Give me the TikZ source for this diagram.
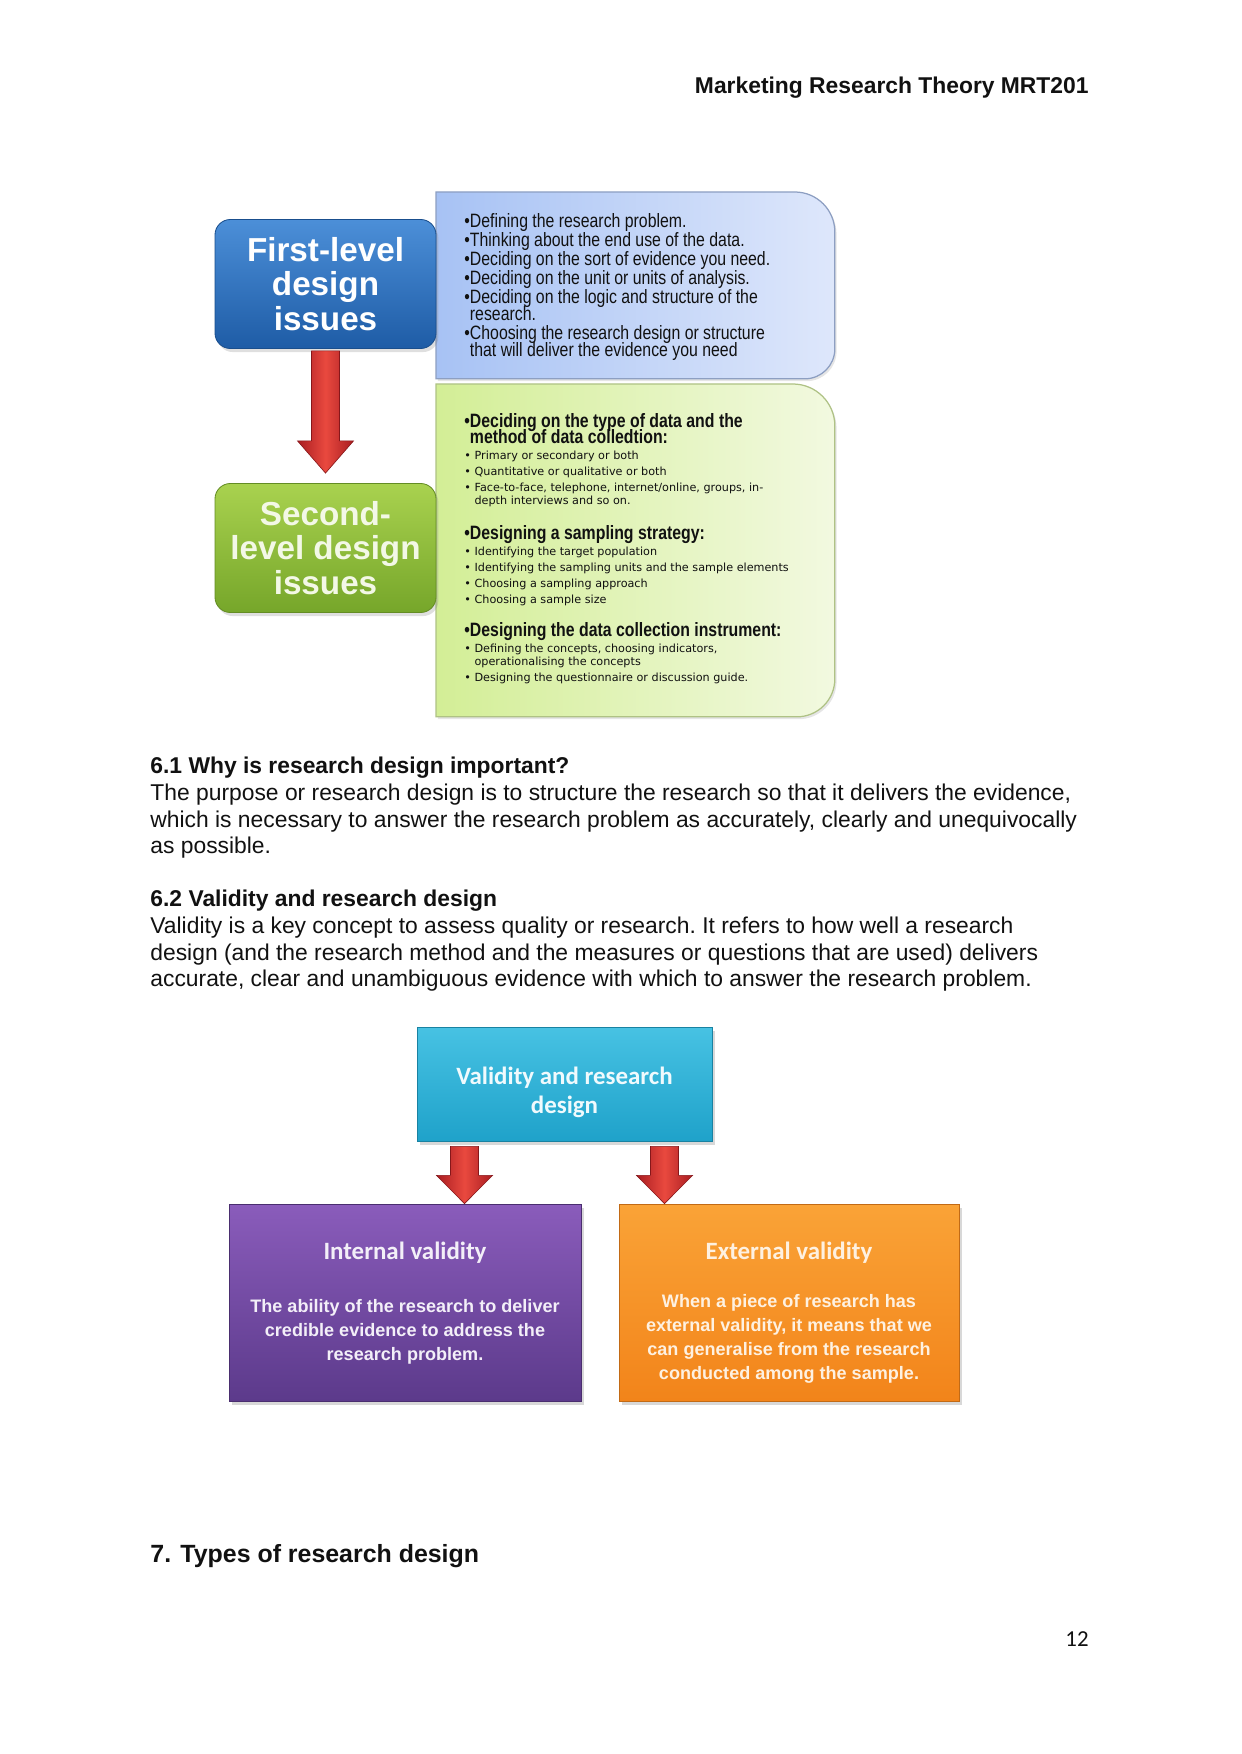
\documentclass[tikz,border=0pt]{standalone}
\usepackage{fontspec}
\setmainfont{Liberation Sans}
\newfontfamily\narrowfont{Liberation Sans}[FakeStretch=0.82]
\newfontfamily\itemfont{DejaVu Sans}
\newfontfamily\calfont{Carlito}
\usepackage{xcolor}
\usepackage{tikz}
\usetikzlibrary{arrows.meta,backgrounds,calc,positioning,shadows}
\definecolor{mrtInk}{HTML}{111111}
\definecolor{mrtBlueTop}{HTML}{4C8FD8}
\definecolor{mrtBlueBot}{HTML}{1E5CA6}
\definecolor{mrtGreenTop}{HTML}{A9D24F}
\definecolor{mrtGreenBot}{HTML}{76A62A}
\definecolor{mrtGreenText}{HTML}{F3F8E6}
\definecolor{mrtPanelBlueL}{HTML}{A7C2F4}
\definecolor{mrtPanelBlueR}{HTML}{DEE7FB}
\definecolor{mrtPanelBlueEdge}{HTML}{8D9FC2}
\definecolor{mrtPanelGreenL}{HTML}{D3EE96}
\definecolor{mrtPanelGreenR}{HTML}{F2F9E0}
\definecolor{mrtPanelGreenEdge}{HTML}{AFC285}
\definecolor{mrtCyanTop}{HTML}{47C2E3}
\definecolor{mrtCyanBot}{HTML}{1FA2CA}
\definecolor{mrtPurpleTop}{HTML}{8A5CBB}
\definecolor{mrtPurpleBot}{HTML}{5C3A8B}
\definecolor{mrtOrangeTop}{HTML}{FAA337}
\definecolor{mrtOrangeBot}{HTML}{F2841A}
\definecolor{mrtArrowDark}{HTML}{A91D21}
\definecolor{mrtArrowLight}{HTML}{E9493F}
\newcommand{\pxlen}{0.16922mm}
\newcommand{\panelhead}{\narrowfont\bfseries\fontsize{9.3}{7.7}\selectfont}
\newcommand{\panelitem}{\itemfont\fontsize{5.4}{6.3}\selectfont}
\newcommand{\tightlines}{\lineskiplimit=-\maxdimen\spaceskip=0pt\xspaceskip=0pt\frenchspacing\relax}

\begin{document}
\begin{tikzpicture}[
  x=0.16922mm, y=-0.16922mm,
  font=\fontsize{11}{12.8}\selectfont,
  plaintext/.style={inner sep=0pt, text=mrtInk},
  bodytext/.style={inner sep=0pt, text=mrtInk, align=left},
  levelbox/.style={rounded corners=2.6mm, minimum width=221*\pxlen, minimum height=129*\pxlen, align=center,
    font=\fontsize{16}{16.7}\selectfont\bfseries, drop shadow={opacity=.25, shadow xshift=.4mm, shadow yshift=-.6mm}},
  firstbox/.style={levelbox, top color=mrtBlueTop, bottom color=mrtBlueBot, draw=mrtBlueBot!85!black, text=white},
  secondbox/.style={levelbox, top color=mrtGreenTop, bottom color=mrtGreenBot, draw=mrtGreenBot!85!black, text=mrtGreenText},
  panel/.style={minimum width=398*\pxlen, anchor=north west, inner sep=0pt},
  paneltext/.style={anchor=north west, inner sep=0pt, text width=370*\pxlen, align=left, text=mrtInk},
  bluefill/.style={left color=mrtPanelBlueL, right color=mrtPanelBlueR, draw=mrtPanelBlueEdge, line width=.6pt,
    drop shadow={opacity=.2, shadow xshift=.3mm, shadow yshift=-.4mm}},
  greenfill/.style={left color=mrtPanelGreenL, right color=mrtPanelGreenR, draw=mrtPanelGreenEdge, line width=.6pt,
    drop shadow={opacity=.2, shadow xshift=.3mm, shadow yshift=-.4mm}},
  flatbox/.style={minimum height=197*\pxlen, inner sep=0pt, draw=#1Bot!80!black, line width=.4pt,
    top color=#1Top, bottom color=#1Bot, drop shadow={opacity=.3, shadow xshift=.5mm, shadow yshift=-.6mm}},
  boxtitle/.style={font=\calfont\bfseries\fontsize{12}{14}\selectfont, inner sep=0pt, align=center},
  boxbody/.style={font=\bfseries\fontsize{8.7}{11.6}\selectfont, inner sep=0pt, align=center},
  blockarrow/.style={left color=mrtArrowDark, right color=mrtArrowDark, middle color=mrtArrowLight,
    draw=mrtArrowDark!80!black, line width=.3pt}
]
  \useasboundingbox (0,0) rectangle (1241,1754);

  \node[plaintext, anchor=base east, font=\bfseries\fontsize{11}{13}\selectfont] (header) at (1089,94) {Marketing Research Theory MRT201};

  \node[firstbox] (first) at (325.5,284) {First-level\\design\\issues};
  \node[secondbox] (second) at (325.5,548) {Second-\\level design\\issues};

  \node[panel, minimum height=186*\pxlen] (bluePanel) at (436,192) {};
  \node[panel, minimum height=332*\pxlen] (greenPanel) at (436,384) {};
  \begin{scope}[on background layer]
    \fill[white] (0,0) rectangle (1241,1754);
    \path[bluefill] (bluePanel.south west) -- (bluePanel.north west) -- ($(bluePanel.north east)+(-40,0)$)
      arc[start angle=-90, end angle=0, radius=40] -- ($(bluePanel.south east)+(0,-30)$)
      arc[start angle=0, end angle=90, radius=30] -- cycle;
    \path[greenfill] (greenPanel.south west) -- (greenPanel.north west) -- ($(greenPanel.north east)+(-42,0)$)
      arc[start angle=-90, end angle=0, radius=42] -- ($(greenPanel.south east)+(0,-38)$)
      arc[start angle=0, end angle=90, radius=38] -- cycle;
  \end{scope}

  \node[paneltext, font=\narrowfont\fontsize{9.3}{8}\selectfont] (blueText)
    at ($(bluePanel.north west)+(28,21)$) {\tightlines
    •Defining the research problem.\par\vspace{1.2pt}
    •Thinking about the end use of the data.\par\vspace{1.2pt}
    •Deciding on the sort of evidence you need.\par\vspace{1.2pt}
    •Deciding on the unit or units of analysis.\par\vspace{1.2pt}
    •Deciding on the logic and structure of the\\\phantom{•}research.\par\vspace{1.2pt}
    •Choosing the research design or structure\\\phantom{•}that will deliver the evidence you need\par};

  \node[paneltext] (greenText) at ($(greenPanel.north west)+(28,29)$) {\tightlines
    {\panelhead •Deciding on the type of data and the\\\phantom{•}method of data colledtion:\par}\vspace{1.4pt}
    {\panelitem • Primary or secondary or both\par}\vspace{1.4pt}
    {\panelitem • Quantitative or qualitative or both\par}\vspace{1.4pt}
    {\panelitem • Face-to-face, telephone, internet/online, groups, in-\\\phantom{• }depth interviews and so on.\par}\vspace{9.2pt}
    {\panelhead •Designing a sampling strategy:\par}\vspace{1.4pt}
    {\panelitem • Identifying the target population\par}\vspace{1.4pt}
    {\panelitem • Identifying the sampling units and the sample elements\par}\vspace{1.4pt}
    {\panelitem • Choosing a sampling approach\par}\vspace{1.4pt}
    {\panelitem • Choosing a sample size\par}\vspace{8.2pt}
    {\panelhead •Designing the data collection instrument:\par}\vspace{1.4pt}
    {\panelitem • Defining the concepts, choosing indicators,\\\phantom{• }operationalising the concepts\par}\vspace{1.4pt}
    {\panelitem • Designing the questionnaire or discussion guide.\par}};

  \path[blockarrow] ($(first.south)+(-14,2)$) -- ($(first.south)+(14,2)$) -- ($(first.south)+(14,92)$)
    -- ($(first.south)+(28,92)$) -- ($(second.north)+(0,-10)$) -- ($(first.south)+(-28,92)$)
    -- ($(first.south)+(-14,92)$) -- cycle;

  \node[bodytext, anchor=north west, text width=1000*\pxlen] (sectionText) at (150,757) {\tightlines
    \textbf{6.1 Why is research design important?}\\
    The purpose or research design is to structure the research so that it delivers the evidence,\\
    which is necessary to answer the research problem as accurately, clearly and unequivocally\\
    as possible.\\[12.8pt]
    \textbf{6.2 Validity and research design}\\
    Validity is a key concept to assess quality or research. It refers to how well a research\\
    design (and the research method and the measures or questions that are used) delivers\\
    accurate, clear and unambiguous evidence with which to answer the research problem.\par};

  \node[flatbox=mrtCyan, minimum width=295*\pxlen, minimum height=114*\pxlen] (valid) at (564.5,1084) {};
  \node[flatbox=mrtPurple, minimum width=352*\pxlen] (internal) at (405,1302.5) {};
  \node[flatbox=mrtOrange, minimum width=340*\pxlen] (external) at (789,1302.5) {};

  \node[boxtitle, text=white!92!mrtCyanTop] (validTitle) at ($(valid.center)+(0,8)$) {Validity and research\\design};
  \node[boxtitle, text=white!90!mrtPurpleTop] (internalTitle) at ($(internal.north)+(0,49)$) {Internal validity};
  \node[boxbody, text=white!90!mrtPurpleTop] (internalBody) at ($(internal.north)+(0,128)$)
    {The ability of the research to deliver\\credible evidence to address the\\research problem.};
  \node[boxtitle, text=white!85!mrtOrangeTop] (externalTitle) at ($(external.north)+(0,49)$) {External validity};
  \node[boxbody, text=white!85!mrtOrangeTop] (externalBody) at ($(external.north)+(0,135)$)
    {When a piece of research has\\external validity, it means that we\\can generalise from the research\\conducted among the sample.};

  \foreach \dx/\target in {-100/internal,100/external} {
    \coordinate (armStart) at ($(valid.south)+(\dx,5)$);
    \path[blockarrow] ($(armStart)+(-14,0)$) -- ($(armStart)+(14,0)$) -- ($(armStart)+(14,29)$)
      -- ($(armStart)+(28,29)$) -- (armStart |- \target.north) -- ($(armStart)+(-28,29)$)
      -- ($(armStart)+(-14,29)$) -- cycle;
  }

  \node[plaintext, anchor=base west, font=\bfseries\fontsize{12}{14}\selectfont] (typesHead) at (150,1562) {7. Types of research design};
  \node[plaintext, anchor=base east, font=\calfont\fontsize{11}{13}\selectfont] (pageNo) at (1089,1646) {12};
\end{tikzpicture}
\end{document}
